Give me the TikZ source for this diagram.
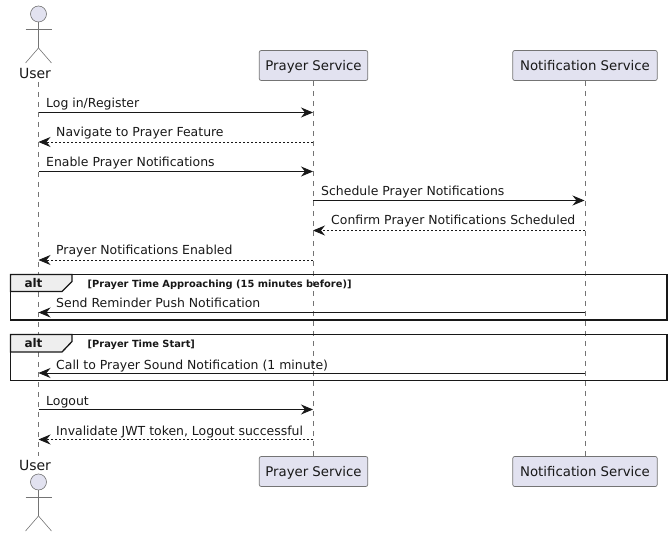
\documentclass[tikz,border=0pt]{standalone}
\usepackage{fontspec}
\setmainfont{DejaVu Sans}
\usetikzlibrary{arrows.meta}
\definecolor{partfill}{HTML}{E2E2F0}
\definecolor{ink}{HTML}{181818}
\definecolor{tabfill}{HTML}{EEEEEE}
\tikzset{
  x=1pt,y=-1pt,
  partbox/.style={draw=ink!60,line width=0.7pt,fill=partfill,rounded corners=2pt,inner sep=0pt,minimum height=30pt,font=\fontsize{13.3}{15}\selectfont,text=ink,text depth=0pt,text height=10pt},
  actorname/.style={inner sep=0pt,font=\fontsize{14}{16}\selectfont,text=ink,anchor=base},
  lifeline/.style={draw=ink!60,line width=0.5pt,dash pattern=on 5pt off 5pt},
  actorline/.style={draw=ink!60,line width=0.6pt},
  msgsolid/.style={draw=ink,line width=0.8pt,-{Stealth[length=12pt,width=10pt,inset=4pt]}},
  msgdash/.style={msgsolid,dash pattern=on 2pt off 2pt},
  msgtext/.style={inner sep=0pt,anchor=base west,font=\fontsize{12.45}{14}\selectfont,text=ink},
  frameline/.style={draw=ink,line width=1.7pt},
  tabshape/.style={draw=ink,line width=1.3pt,fill=tabfill},
  alttext/.style={inner sep=0pt,anchor=base,font=\bfseries\fontsize{12}{14}\selectfont,text=ink},
  condtext/.style={inner sep=0pt,anchor=base west,font=\bfseries\fontsize{9.85}{12}\selectfont,text=ink},
}
\begin{document}
\begin{tikzpicture}
\useasboundingbox (0,0) rectangle (672,537);
% participants
\node[actorname] (userT) at (35,79) {User};
\node[actorname] (userB) at (35,470) {User};
\node[partbox,minimum width=108.5pt] (prayerT) at (313.5,65.5) {Prayer Service};
\node[partbox,minimum width=108.5pt] (prayerB) at (313.5,471.5) {Prayer Service};
\node[partbox,minimum width=144.5pt] (notifT) at (585,65.5) {Notification Service};
\node[partbox,minimum width=144.5pt] (notifB) at (585,471.5) {Notification Service};
% lifelines
\coordinate (uA) at (38.5,82);
\coordinate (uB) at (38.5,456);
\draw[lifeline] (uA) -- (uB);
\draw[lifeline] (prayerT.south) -- (prayerB.north);
\draw[lifeline] (notifT.south) -- (notifB.north);
% actors
\foreach \hy in {14,482}{
  \draw[actorline,fill=partfill] (38.5,\hy) circle (8);
  \draw[actorline] (38.5,\hy+8) -- (38.5,\hy+34) -- (25.5,\hy+49);
  \draw[actorline] (38.5,\hy+34) -- (51.5,\hy+49);
  \draw[actorline] (25.5,\hy+15) -- (51.5,\hy+15);
}
% message end points
\foreach \nm/\yy in {a/112.5,b/142,c/171.5,d/200.5,e/230.5,f/260,g/312.5,h/373,i/409.5,j/439.5}{
  \coordinate (u\nm) at (38.5,\yy);
  \coordinate (p\nm) at (313,\yy);
  \coordinate (n\nm) at (584.5,\yy);
}
% messages
\draw[msgsolid] (ua) -- (pa);
\node[msgtext] (ma) at (46,108) {Log in/Register};
\draw[msgdash] (pb) -- (ub);
\node[msgtext] (mb) at (56,137) {Navigate to Prayer Feature};
\draw[msgsolid] (uc) -- (pc);
\node[msgtext] (mc) at (46,167) {Enable Prayer Notifications};
\draw[msgsolid] (pd) -- (nd);
\node[msgtext] (md) at (321,196) {Schedule Prayer Notifications};
\draw[msgdash] (ne) -- (pe);
\node[msgtext] (me) at (331,225) {Confirm Prayer Notifications Scheduled};
\draw[msgdash] (pf) -- (uf);
\node[msgtext] (mf) at (56,255) {Prayer Notifications Enabled};
% alt 1
\draw[tabshape] (10.5,274.5) -- (72,274.5) -- (72,281.5) -- (62,291.5) -- (10.5,291.5) -- cycle;
\draw[frameline] (10.5,274.5) rectangle (667,320);
\node[alttext] (alt1) at (33.5,288) {alt};
\node[condtext] (cond1) at (87.5,287.5) {[Prayer Time Approaching (15 minutes before)]};
\draw[msgsolid] (ng) -- (ug);
\node[msgtext] (mg) at (56,308) {Send Reminder Push Notification};
% alt 2
\draw[tabshape] (10.5,334.5) -- (72,334.5) -- (72,341.5) -- (62,352) -- (10.5,352) -- cycle;
\draw[frameline] (10.5,334.5) rectangle (667,380.5);
\node[alttext] (alt2) at (33.5,348) {alt};
\node[condtext] (cond2) at (87.5,348) {[Prayer Time Start]};
\draw[msgsolid] (nh) -- (uh);
\node[msgtext] (mh) at (56,369) {Call to Prayer Sound Notification (1 minute)};
% logout
\draw[msgsolid] (ui) -- (pi);
\node[msgtext] (mi) at (46,405) {Logout};
\draw[msgdash] (pj) -- (uj);
\node[msgtext] (mj) at (56,435) {Invalidate JWT token, Logout successful};
\end{tikzpicture}
\end{document}
